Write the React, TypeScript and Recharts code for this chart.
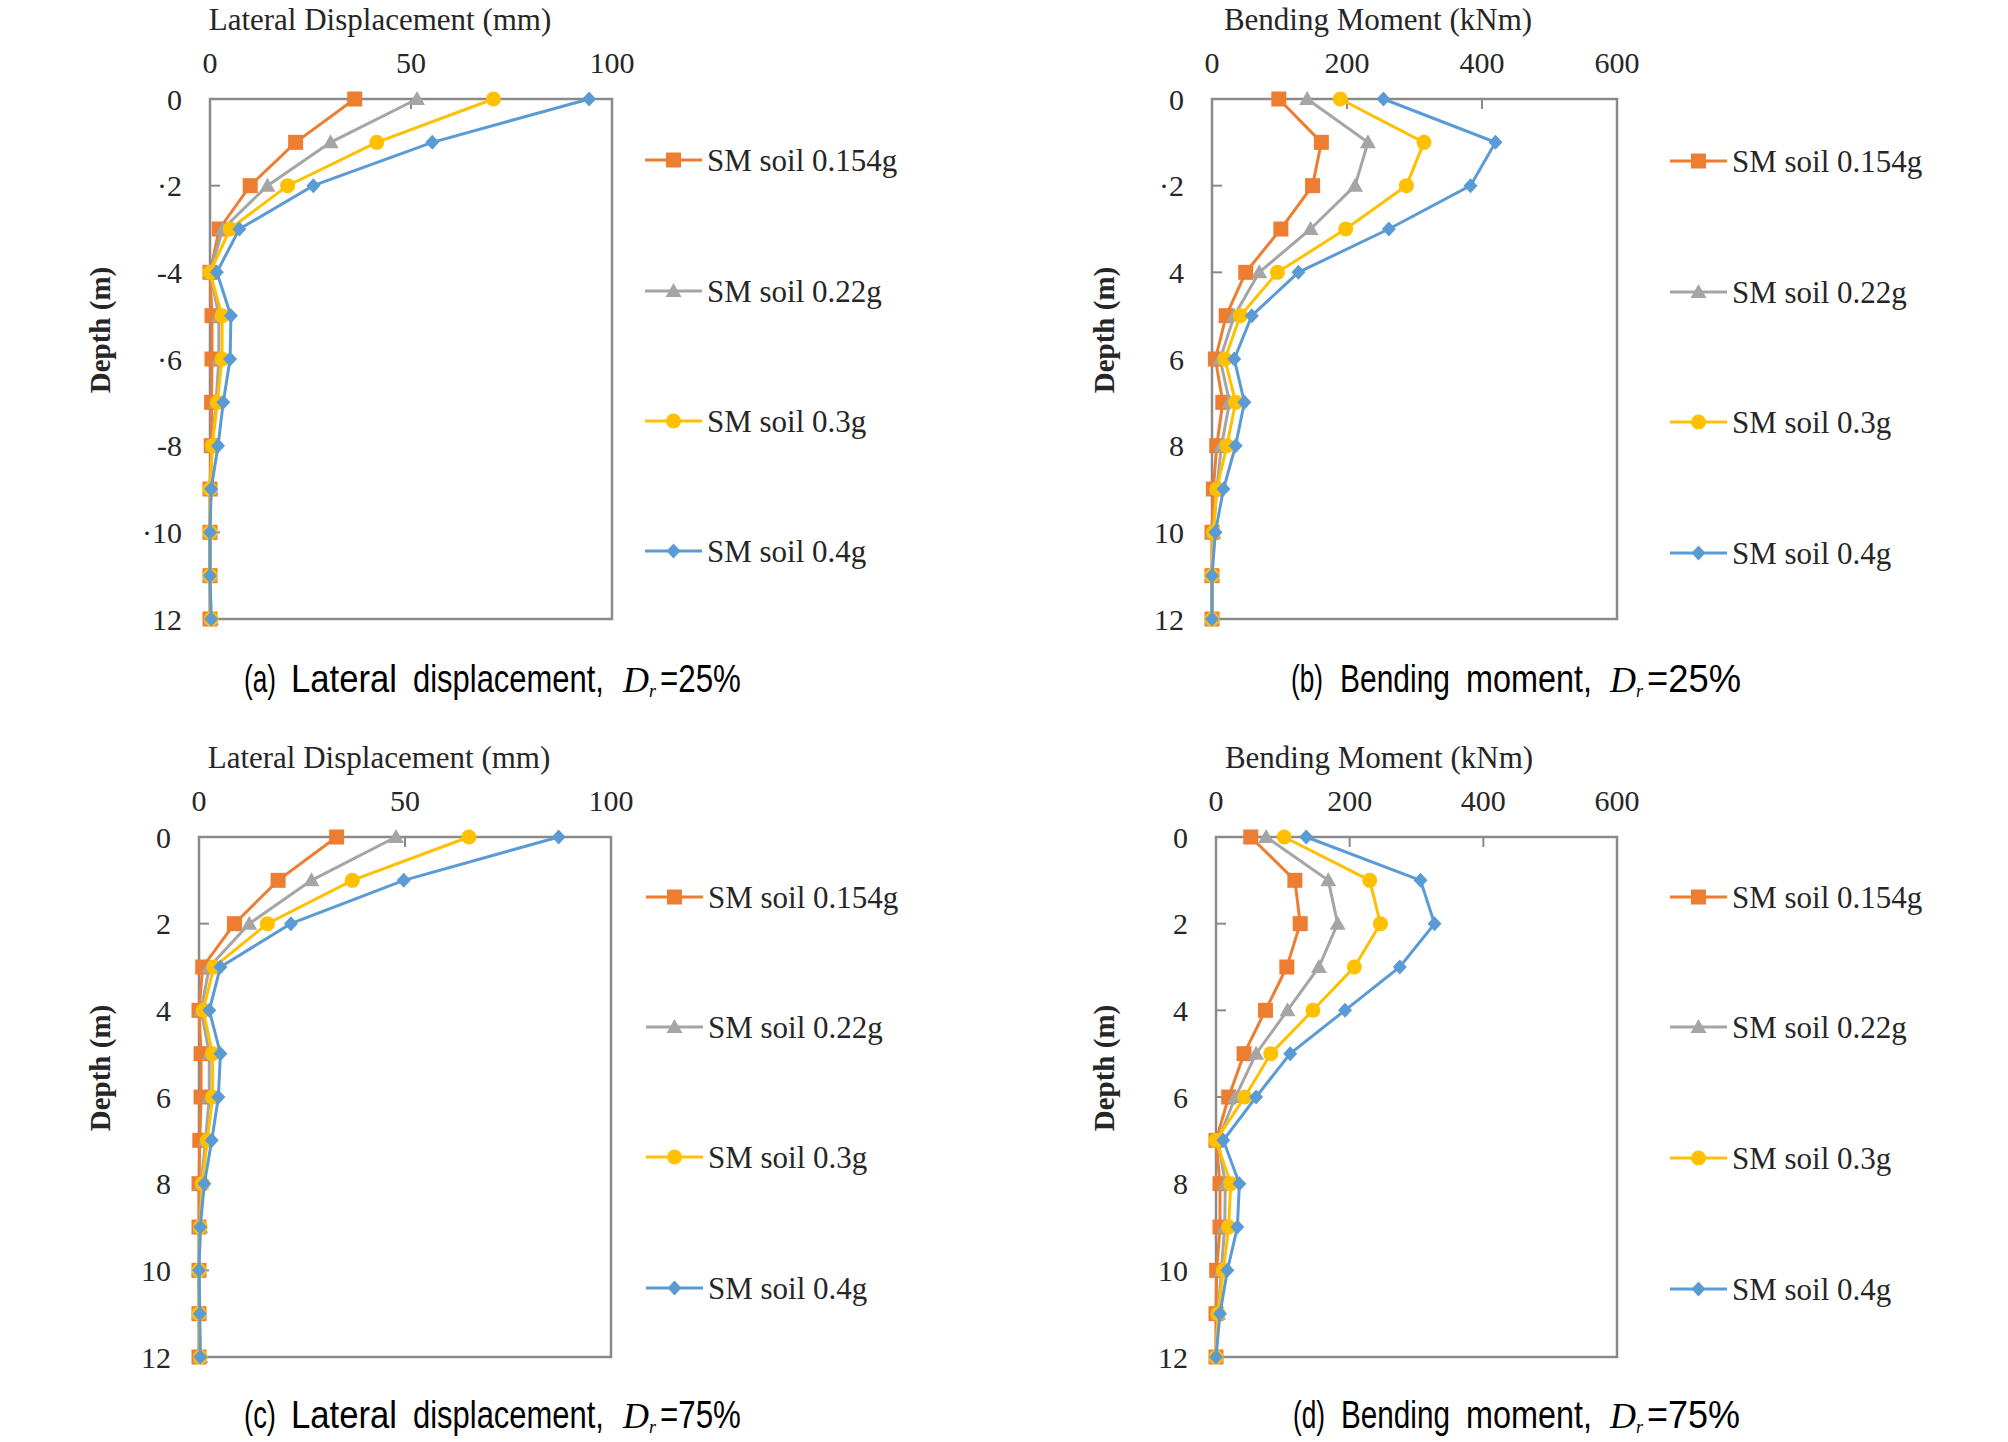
import React from 'react';
import { ScatterChart, Scatter, XAxis, YAxis, ReferenceArea, Legend } from 'recharts';

if (typeof document !== 'undefined') {
  document.body.style.margin = '0';
  document.body.style.background = '#ffffff';
}

// ---------- data ----------
const depths = [0, 1, 2, 3, 4, 5, 6, 7, 8, 9, 10, 11, 12];
const seriesNames = ['SM soil 0.154g', 'SM soil 0.22g', 'SM soil 0.3g', 'SM soil 0.4g'];
const seriesColors = ['#ED7D31', '#A5A5A5', '#FFC000', '#5B9BD5'];
const seriesMarkers = ['square', 'triangle', 'circle', 'diamond'];

// (a) Lateral displacement (mm), Dr = 25%
const dispA_0154 = [36, 21.3, 10, 2.3, 0, 0.5, 0.5, 0.4, 0.3, 0, 0, 0, 0];
const dispA_022 = [51.5, 30, 14.3, 3.2, 0, 2.2, 2.2, 1.5, 0.5, 0.2, 0, 0, 0.2];
const dispA_03 = [70.5, 41.5, 19.3, 5, 0, 3, 3, 1.8, 0.6, 0, 0, 0, 0.3];
const dispA_04 = [94.3, 55.3, 25.7, 7.3, 1.7, 5.2, 5, 3.3, 2, 0.3, 0, 0, 0.3];

// (b) Bending moment (kNm), Dr = 25%
const momB_0154 = [99, 162, 149, 102, 50, 21, 5, 16, 7, 2, 0, 0, 0];
const momB_022 = [141, 231, 212, 146, 70, 33, 12, 26, 14, 7, 2, 0, 0];
const momB_03 = [190, 314, 288, 198, 97, 42, 19, 35, 22, 7, 2, 0, 0];
const momB_04 = [254, 420, 383, 262, 128, 59, 33, 48, 35, 17, 5, 0, 0];

// (c) Lateral displacement (mm), Dr = 75%
const dispC_0154 = [33.4, 19.2, 8.6, 0.9, 0, 0.5, 0.5, 0.2, 0, 0, 0, 0, 0];
const dispC_022 = [47.8, 27.3, 12.2, 2.5, 0.5, 2.5, 2.5, 1.6, 0.5, 0.3, 0, 0, 0.3];
const dispC_03 = [65.5, 37.2, 16.6, 3.6, 1, 3.3, 3.3, 2, 0.8, 0.3, 0, 0, 0.3];
const dispC_04 = [87.3, 49.7, 22.3, 5.2, 2.5, 5.2, 4.7, 3.1, 1.3, 0.3, 0, 0.2, 0.3];

// (d) Bending moment (kNm), Dr = 75%
const momD_0154 = [52, 118, 126, 106, 74, 42, 19, 0, 6, 6, 1, 0, 0];
const momD_022 = [75, 168, 182, 154, 107, 60, 29, 3, 14, 13, 8, 3, 0];
const momD_03 = [102, 230, 246, 207, 145, 82, 43, 0, 22, 19, 11, 3, 0];
const momD_04 = [135, 306, 327, 275, 193, 111, 60, 11, 35, 32, 17, 6, 0];

const dispTicks = [0, 50, 100];
const momTicks = [0, 200, 400, 600];
const depthTicks = [0, 2, 4, 6, 8, 10, 12];
const depthLabelsA = ['0', '·2', '-4', '·6', '-8', '·10', '12'];
const depthLabelsB = ['0', '·2', '4', '6', '8', '10', '12'];
const depthLabelsPlain = ['0', '2', '4', '6', '8', '10', '12'];

const dispTitle = 'Lateral Displacement (mm)';
const momTitle = 'Bending Moment (kNm)';
const depthTitle = 'Depth (m)';

// ---------- style ----------
const SERIF = "'Liberation Serif', 'Times New Roman', serif";
const SANS = "'Liberation Sans', Arial, sans-serif";
const TEXT = '#262626';
const AXIS = '#8a8a8a';
const PW = 1004;
const PH = 721;
const CAP_SIZE = 38;

let measureCtx: CanvasRenderingContext2D | null = null;
function textWidth(t: string): number {
  if (typeof document !== 'undefined') {
    if (!measureCtx) measureCtx = document.createElement('canvas').getContext('2d');
    if (measureCtx) {
      measureCtx.font = `${CAP_SIZE}px 'Liberation Sans', Arial, sans-serif`;
      const w = measureCtx.measureText(t).width;
      if (w > 0) return w;
    }
  }
  return t.length * CAP_SIZE * 0.55;
}

function Marker({ kind, color, cx, cy }: { kind: string; color: string; cx: number; cy: number }) {
  if (kind === 'square') return <rect x={cx - 7.5} y={cy - 7.5} width={15} height={15} fill={color} />;
  if (kind === 'triangle')
    return <path d={`M${cx},${cy - 8} L${cx + 8},${cy + 6} L${cx - 8},${cy + 6} Z`} fill={color} />;
  if (kind === 'circle') return <circle cx={cx} cy={cy} r={7.5} fill={color} />;
  return <path d={`M${cx},${cy - 7.5} L${cx + 7},${cy} L${cx},${cy + 7.5} L${cx - 7},${cy} Z`} fill={color} />;
}

const makeShape = (kind: string, color: string) => (props: any) => {
  const { cx, cy } = props;
  if (cx == null || cy == null) return <g />;
  return <Marker kind={kind} color={color} cx={cx} cy={cy} />;
};

type PanelCfg = {
  left: number;
  top: number;
  plotL: number;
  plotR: number;
  plotT: number;
  plotB: number;
  xMax: number;
  xTicks: number[];
  yLabels: string[];
  title: string;
  titleCx: number;
  depthCx: number;
  values: number[][];
  legendX: number;
  legendYs: number[];
};

function LegendSvg({ x, ys }: { x: number; ys: number[] }) {
  return (
    <svg width={PW} height={PH} style={{ position: 'absolute', left: 0, top: 0, overflow: 'visible' }}>
      {seriesNames.map((name, i) => (
        <g key={name}>
          <line x1={x} x2={x + 57} y1={ys[i]} y2={ys[i]} stroke={seriesColors[i]} strokeWidth={3} />
          <Marker kind={seriesMarkers[i]} color={seriesColors[i]} cx={x + 28.5} cy={ys[i]} />
          <text x={x + 62} y={ys[i] + 10.5} fontFamily={SERIF} fontSize={31} fill={TEXT}>
            {name}
          </text>
        </g>
      ))}
    </svg>
  );
}

function Panel({ cfg }: { cfg: PanelCfg }) {
  const pl = cfg.plotL - cfg.left;
  const pr = cfg.plotR - cfg.left;
  const pt = cfg.plotT - cfg.top;
  const pb = cfg.plotB - cfg.top;
  const XH = 40;
  const YW = 60;
  const margin = { top: pt - XH, left: pl - YW, right: PW - pr, bottom: PH - pb };
  const titleX = cfg.titleCx - cfg.left;
  const depthX = cfg.depthCx - cfg.left;
  const depthY = (pt + pb) / 2 - 29;

  return (
    <div style={{ position: 'absolute', left: cfg.left, top: cfg.top, width: PW, height: PH }}>
      <ScatterChart width={PW} height={PH} margin={margin}>
        <XAxis
          type="number"
          dataKey="x"
          orientation="top"
          domain={[0, cfg.xMax]}
          ticks={cfg.xTicks}
          interval={0}
          height={XH}
          axisLine={false}
          tickSize={-10}
          tickMargin={36}
          tickLine={{ stroke: AXIS, strokeWidth: 2 }}
          tick={{ fontFamily: SERIF, fontSize: 30, fill: TEXT }}
          label={{
            content: () => (
              <text x={titleX} y={pt - 79 + 10} textAnchor="middle" fontFamily={SERIF} fontSize={31} fill={TEXT}>
                {cfg.title}
              </text>
            ),
          }}
        />
        <YAxis
          type="number"
          dataKey="y"
          domain={[0, 12]}
          reversed
          ticks={depthTicks}
          interval={0}
          width={YW}
          axisLine={false}
          tickSize={-10}
          tickMargin={38}
          tickLine={{ stroke: AXIS, strokeWidth: 2 }}
          tick={{ fontFamily: SERIF, fontSize: 30, fill: TEXT }}
          tickFormatter={(v: number) => cfg.yLabels[Math.round(v / 2)] ?? String(v)}
          label={{
            content: () => (
              <text
                x={depthX}
                y={depthY}
                transform={`rotate(-90 ${depthX} ${depthY})`}
                textAnchor="middle"
                dominantBaseline="central"
                fontFamily={SERIF}
                fontWeight="bold"
                fontSize={29}
                fill={TEXT}
              >
                {depthTitle}
              </text>
            ),
          }}
        />
        <ReferenceArea
          x1={0}
          x2={cfg.xMax}
          y1={0}
          y2={12}
          fill="none"
          fillOpacity={0}
          stroke={AXIS}
          strokeWidth={2.5}
          ifOverflow="visible"
        />
        {cfg.values.map((vals, i) => (
          <Scatter
            key={seriesNames[i]}
            name={seriesNames[i]}
            data={depths.map((d, j) => ({ x: vals[j], y: d }))}
            fill={seriesColors[i]}
            line={{ stroke: seriesColors[i], strokeWidth: 3 }}
            lineType="joint"
            shape={makeShape(seriesMarkers[i], seriesColors[i])}
            isAnimationActive={false}
          />
        ))}
        <Legend
          layout="horizontal"
          verticalAlign="middle"
          align="center"
          wrapperStyle={{ left: 0, top: 0, width: PW, height: PH, pointerEvents: 'none' }}
          content={() => <LegendSvg x={cfg.legendX - cfg.left} ys={cfg.legendYs.map((y) => y - cfg.top)} />}
        />
      </ScatterChart>
    </div>
  );
}

const panels: PanelCfg[] = [
  {
    left: 0, top: 0, plotL: 210, plotR: 612, plotT: 99, plotB: 619,
    xMax: 100, xTicks: dispTicks, yLabels: depthLabelsA, title: dispTitle, titleCx: 380, depthCx: 100,
    values: [dispA_0154, dispA_022, dispA_03, dispA_04],
    legendX: 645, legendYs: [160, 291, 421, 551],
  },
  {
    left: 1004, top: 0, plotL: 1212, plotR: 1617, plotT: 99, plotB: 619,
    xMax: 600, xTicks: momTicks, yLabels: depthLabelsB, title: momTitle, titleCx: 1378, depthCx: 1104,
    values: [momB_0154, momB_022, momB_03, momB_04],
    legendX: 1670, legendYs: [161, 292, 422, 553],
  },
  {
    left: 0, top: 721, plotL: 199, plotR: 611, plotT: 837, plotB: 1357,
    xMax: 100, xTicks: dispTicks, yLabels: depthLabelsPlain, title: dispTitle, titleCx: 379, depthCx: 100,
    values: [dispC_0154, dispC_022, dispC_03, dispC_04],
    legendX: 646, legendYs: [897, 1027, 1157, 1288],
  },
  {
    left: 1004, top: 721, plotL: 1216, plotR: 1617, plotT: 837, plotB: 1357,
    xMax: 600, xTicks: momTicks, yLabels: depthLabelsPlain, title: momTitle, titleCx: 1379, depthCx: 1104,
    values: [momD_0154, momD_022, momD_03, momD_04],
    legendX: 1670, legendYs: [897, 1027, 1158, 1289],
  },
];

// caption words: [text, x start, x end]
type Word = [string, number, number];
type CaptionCfg = { words: Word[]; tail: string; dx: number; t0: number; t1: number; base: number };
const captions: CaptionCfg[] = [
  { words: [['(a)', 244, 276], ['Lateral', 291, 397], ['displacement,', 413, 604]], tail: '=25%', dx: 623, t0: 660, t1: 741, base: 692 },
  { words: [['(b)', 1291, 1323], ['Bending', 1340, 1450], ['moment,', 1466, 1592]], tail: '=25%', dx: 1610, t0: 1647, t1: 1741, base: 692 },
  { words: [['(c)', 244, 276], ['Lateral', 291, 397], ['displacement,', 413, 604]], tail: '=75%', dx: 623, t0: 660, t1: 741, base: 1428 },
  { words: [['(d)', 1293, 1325], ['Bending', 1341, 1450], ['moment,', 1466, 1592]], tail: '=75%', dx: 1610, t0: 1647, t1: 1740, base: 1428 },
];

function SqueezedText({ text, x0, x1, base }: { text: string; x0: number; x1: number; base: number }) {
  const sx = (x1 - x0) / textWidth(text);
  return (
    <text
      x={0}
      y={0}
      transform={`translate(${x0} ${base}) scale(${sx} 1)`}
      fontFamily={SANS}
      fontSize={CAP_SIZE}
      fill="#000"
    >
      {text}
    </text>
  );
}

function Captions() {
  return (
    <svg width={2008} height={1442} style={{ position: 'absolute', left: 0, top: 0, pointerEvents: 'none' }}>
      {captions.map((c, k) => (
        <g key={k}>
          {c.words.map(([w, a, b]) => (
            <SqueezedText key={w} text={w} x0={a} x1={b} base={c.base} />
          ))}
          <text x={c.dx} y={c.base} fill="#000" fontFamily={SERIF} fontStyle="italic">
            <tspan fontSize={36}>D</tspan>
            <tspan fontSize={18} dy={5}>
              r
            </tspan>
          </text>
          <SqueezedText text={c.tail} x0={c.t0} x1={c.t1} base={c.base} />
        </g>
      ))}
    </svg>
  );
}

export default function App() {
  return (
    <div style={{ position: 'relative', width: 2008, height: 1442, background: '#ffffff', overflow: 'hidden' }}>
      {panels.map((p, i) => (
        <Panel key={i} cfg={p} />
      ))}
      <Captions />
    </div>
  );
}
